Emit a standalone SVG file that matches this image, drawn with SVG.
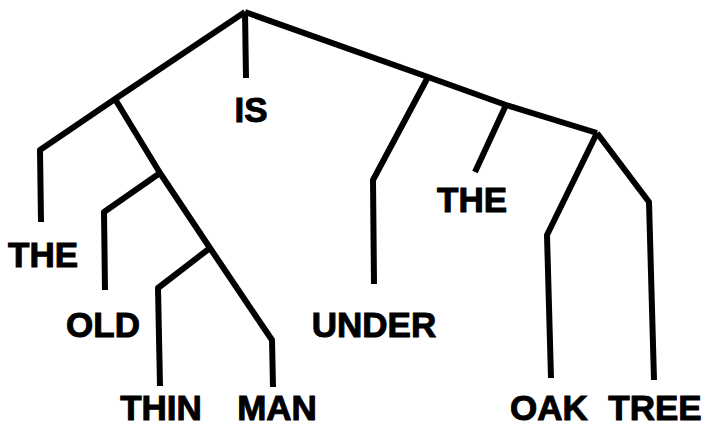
<svg xmlns="http://www.w3.org/2000/svg" width="704" height="428" viewBox="0 0 704 428">
<style>
.e{fill:none;stroke:#000;stroke-width:6;stroke-linejoin:round;stroke-linecap:butt}
.w{font-family:"Liberation Sans",Arial,Helvetica,sans-serif;font-weight:bold;font-size:35px;fill:#000;stroke:#000;stroke-width:1;text-anchor:middle}
</style>
<rect width="704" height="428" fill="#fff"/>
<g id="connectors">
<path class="e" d="M245,12 L246,78"/>
<path class="e" d="M245,12 L115,99 L40,150 L41,222"/>
<path class="e" d="M115,99 L160,173 L210,248 L272,340 L273,387"/>
<path class="e" d="M160,173 L104,212 L105,290"/>
<path class="e" d="M210,248 L158,288 L160,386"/>
<path class="e" d="M245,12 L428,77 L506,105 L597,133"/>
<path class="e" d="M428,77 L373,180 L374,284"/>
<path class="e" d="M506,105 L475,172"/>
<path class="e" d="M597,133 L547,235 L551,378"/>
<path class="e" d="M597,133 L649,202 L654,380"/>
</g>
<g id="n-is"><text class="w" x="251" y="122">IS</text></g>
<g id="n-the1"><text class="w" x="43" y="267">THE</text></g>
<g id="n-old"><text class="w" x="103" y="337">OLD</text></g>
<g id="n-thin"><text class="w" x="161" y="420">THIN</text></g>
<g id="n-man"><text class="w" x="277" y="420">MAN</text></g>
<g id="n-under"><text class="w" x="374" y="337">UNDER</text></g>
<g id="n-the2"><text class="w" x="472" y="212">THE</text></g>
<g id="n-oak"><text class="w" x="549" y="420">OAK</text></g>
<g id="n-tree"><text class="w" x="655" y="420">TREE</text></g>
</svg>
